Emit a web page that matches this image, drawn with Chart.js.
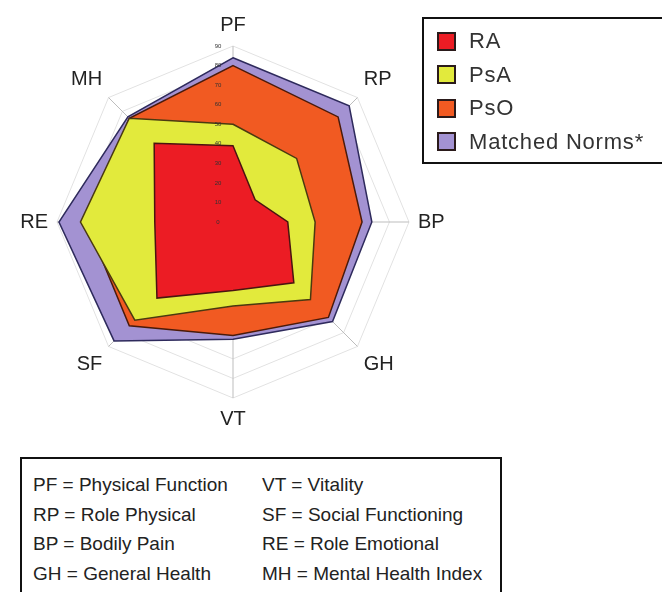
<!DOCTYPE html>
<html>
<head>
<meta charset="utf-8">
<script src="https://cdn.jsdelivr.net/npm/chart.js@4.4.1/dist/chart.umd.min.js"></script>
<style>
  html,body{margin:0;padding:0;background:#fff;width:662px;height:592px;overflow:hidden;font-family:"Liberation Sans",Arial,sans-serif;color:#222}
  #wrap{position:absolute;left:0;top:0;width:466px;height:444px}
  #legend{position:absolute;left:422px;top:17px;width:250px;height:147px;border:2px solid #111;box-sizing:border-box}
  #legend .it{position:absolute;left:13px;height:24px;display:flex;align-items:center;font-size:22px;letter-spacing:0.8px;color:#333}
  #legend .sw{width:19px;height:19px;border:2px solid #2a1a1a;box-sizing:border-box;margin-right:13px}
  #abbr{position:absolute;left:20px;top:457px;width:482px;height:150px;border:2px solid #111;box-sizing:border-box;font-size:19px}
  #abbr div{position:absolute;white-space:nowrap}
</style>
</head>
<body>
<div id="wrap"><canvas id="c"></canvas></div>
<div id="legend"></div>
<div id="abbr"></div>
<script>
const axes = ['PF','RP','BP','GH','VT','SF','RE','MH'];
const seriesNames = ['RA','PsA','PsO','Matched Norms*'];
const ra    = [39, 16, 28, 44, 35, 55, 40, 57];
const psa   = [50, 46, 42, 56, 43, 71, 78, 75];
const pso   = [80, 76, 66, 69, 58, 75, 75, 75];
const norms = [84, 84, 71, 72, 60, 86, 89, 76];
const tickValues = [0,10,20,30,40,50,60,70,80,90];
const abbrLeft = ['PF = Physical Function','RP = Role Physical','BP = Bodily Pain','GH = General Health'];
const abbrRight = ['VT = Vitality','SF = Social Functioning','RE = Role Emotional','MH = Mental Health Index'];

const fills = ['#ec1c24','#e2ea3c','#f15a22','#a392d2'];
const edges = ['#4a1410','#4a3a10','#4a1a0a','#2e2a5c'];

// tick labels sit on top of the fills, a bit left of the PF axis
const tickLabels = {
  id:'tickLabels',
  afterDatasetsDraw(chart){
    const s = chart.scales.r, ctx = chart.ctx;
    ctx.save();
    ctx.font = '6px "Liberation Sans", Arial';
    ctx.fillStyle = '#333';
    ctx.textAlign = 'center';
    ctx.textBaseline = 'middle';
    tickValues.forEach(v=>{
      const d = s.getDistanceFromCenterForValue(v);
      ctx.fillText(String(v), s.xCenter - 15, s.yCenter - d);
    });
    ctx.restore();
  }
};

const data = [ra, psa, pso, norms];
new Chart(document.getElementById('c'), {
  type:'radar',
  data:{
    labels: axes,
    datasets: data.map((d,i)=>({
      label: seriesNames[i], data: d,
      backgroundColor: fills[i], borderColor: edges[i], borderWidth: 1.5,
      fill: true, pointRadius: 0, tension: 0
    }))
  },
  options:{
    responsive:true, maintainAspectRatio:false, animation:false,
    layout:{ padding:{ top:13, bottom:13, left:20, right:20 } },
    plugins:{ legend:{display:false}, tooltip:{enabled:false} },
    scales:{ r:{
      min:0, max:90,
      ticks:{ display:false, stepSize:10 },
      grid:{ color:'#e2e2e2', lineWidth:1 },
      angleLines:{ color:'#bdbdbd', lineWidth:1 },
      pointLabels:{ color:'#222', padding:9, font:{ family:'"Liberation Sans", Arial', size:20 } }
    } }
  },
  plugins:[tickLabels]
});

const lg = document.getElementById('legend');
seriesNames.forEach((n,i)=>{
  const it = document.createElement('div');
  it.className = 'it';
  it.style.top = (10 + i*33.5) + 'px';
  it.innerHTML = `<span class="sw" style="background:${fills[i]}"></span><span>${n}</span>`;
  lg.appendChild(it);
});

const ab = document.getElementById('abbr');
abbrLeft.forEach((t,i)=>{
  const d = document.createElement('div');
  d.textContent = t; d.style.left = '11px'; d.style.top = (15 + i*29.5) + 'px';
  ab.appendChild(d);
});
abbrRight.forEach((t,i)=>{
  const d = document.createElement('div');
  d.textContent = t; d.style.left = '240px'; d.style.top = (15 + i*29.5) + 'px';
  ab.appendChild(d);
});
</script>
</body>
</html>
